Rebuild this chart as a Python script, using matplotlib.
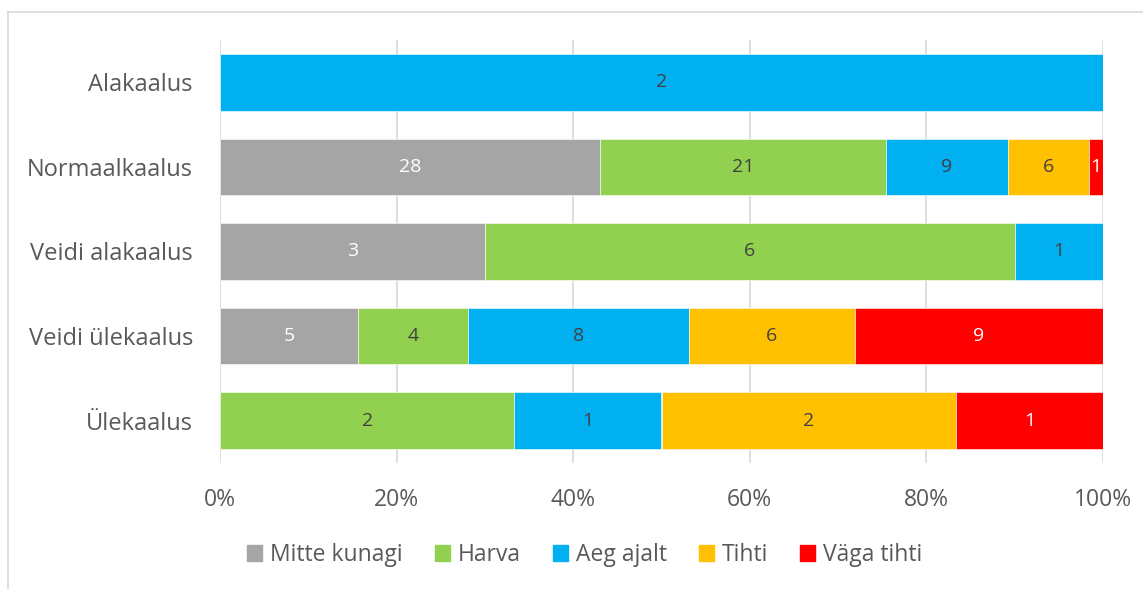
import matplotlib
matplotlib.use("Agg")
import matplotlib.pyplot as plt
from matplotlib.lines import Line2D
import numpy as np

categories = ["Alakaalus", "Normaalkaalus", "Veidi alakaalus", "Veidi ülekaalus", "Ülekaalus"]
series_names = ["Mitte kunagi", "Harva", "Aeg ajalt", "Tihti", "Väga tihti"]
mitte_kunagi = [0, 28, 3, 5, 0]
harva = [0, 21, 6, 4, 2]
aeg_ajalt = [2, 9, 1, 8, 1]
tihti = [0, 6, 0, 6, 2]
vaga_tihti = [0, 1, 0, 9, 1]
colors = ["#A5A5A5", "#92D050", "#00B0F0", "#FFC000", "#FF0000"]
label_colors = ["white", "#404040", "#404040", "#404040", "white"]
xticks = [0, 20, 40, 60, 80, 100]

plt.rcParams['font.family'] = ['Open Sans', 'DejaVu Sans']
text_color = "#595959"

fig = plt.figure(figsize=(11.43, 5.89), dpi=100)
ax = fig.add_axes([220/1143, 1-463/589, (1103-220)/1143, (463-40)/589])

data = np.array([mitte_kunagi, harva, aeg_ajalt, tihti, vaga_tihti], dtype=float)
totals = data.sum(axis=0)
pct = data / totals * 100
y = np.arange(len(categories))
left = np.zeros(len(categories))
for i, name in enumerate(series_names):
    ax.barh(y, pct[i], left=left, height=0.67, color=colors[i],
            edgecolor="white", linewidth=0.4, label=name, zorder=3)
    for j in range(len(categories)):
        if data[i, j] > 0:
            ax.text(left[j] + pct[i, j] / 2, y[j], f"{int(data[i, j])}",
                    ha="center", va="center", fontsize=14, color=label_colors[i], zorder=4)
    left += pct[i]

ax.set_xlim(0, 100)
ax.set_ylim(4.5, -0.5)
ax.set_yticks(y)
ax.set_yticklabels(categories, fontsize=17, color=text_color)
ax.set_xticks(xticks)
ax.set_xticklabels([f"{t}%" for t in xticks], fontsize=16.5, color=text_color)
ax.tick_params(axis="both", length=0)
ax.tick_params(axis="y", pad=19.5)
ax.tick_params(axis="x", pad=18)
ax.grid(axis="x", color="#D9D9D9", linewidth=1.2, zorder=0)
for s in ax.spines.values():
    s.set_visible(False)

handles = [plt.Rectangle((0, 0), 1, 1, color=c) for c in colors]
fig.legend(handles, series_names, loc="center", bbox_to_anchor=(585/1143, 1-555/589),
           ncol=5, frameon=False, fontsize=16.5, handlelength=0.65, handleheight=0.65,
           handletextpad=0.35, columnspacing=1.4, labelcolor=text_color)

# outer frame
fig.add_artist(Line2D([8/1143, 1.0], [1-12/589, 1-12/589], color="#D9D9D9", linewidth=1.2))
fig.add_artist(Line2D([8/1143, 8/1143], [0, 1-12/589], color="#D9D9D9", linewidth=1.2))

fig.savefig("out.png", dpi=100)
